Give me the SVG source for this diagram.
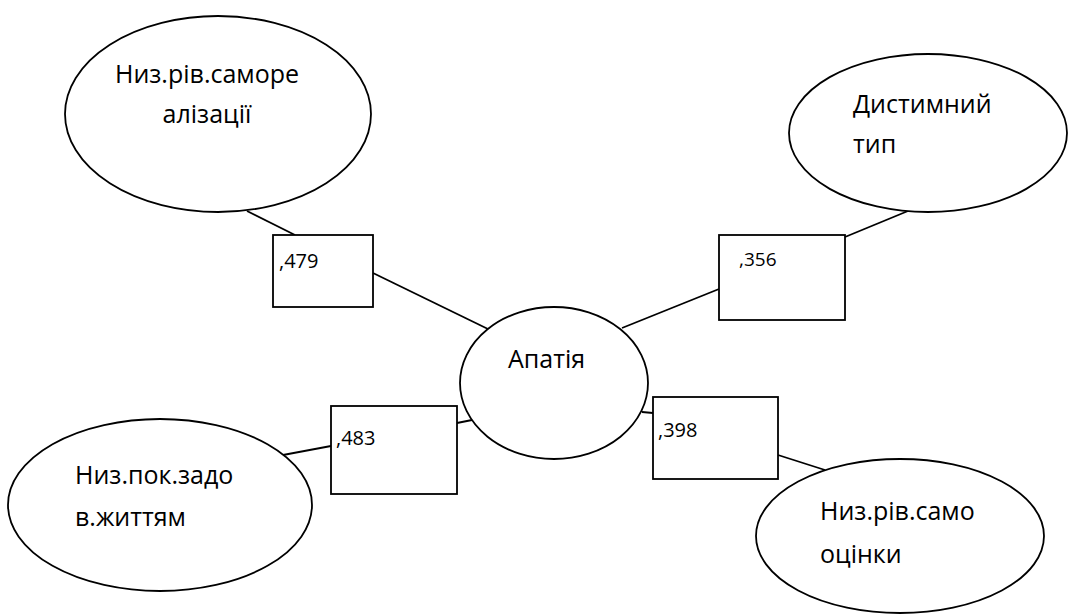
<svg xmlns="http://www.w3.org/2000/svg" width="1069" height="615" viewBox="0 0 1069 615">
<style>
.shape{fill:#fff;stroke:#000;stroke-width:1.8}
.conn line{stroke:#000;stroke-width:1.8}
.lbl{font-family:"Open Sans","Noto Sans","DejaVu Sans",sans-serif;font-size:25px;fill:#000}
.val{font-family:"Open Sans","Noto Sans","DejaVu Sans",sans-serif;font-size:20px;fill:#000}
</style>
<rect width="1069" height="615" fill="#fff"/>
<g class="conn" id="connectors">
<line x1="247" y1="211" x2="295" y2="235"/>
<line x1="373" y1="273" x2="488" y2="329"/>
<line x1="908" y1="211" x2="845" y2="237"/>
<line x1="719" y1="289" x2="622" y2="328"/>
<line x1="283" y1="455" x2="331" y2="446"/>
<line x1="457" y1="423" x2="472" y2="420"/>
<line x1="642" y1="412" x2="653" y2="413"/>
<line x1="778" y1="455" x2="825" y2="470"/>
</g>
<g id="n-samorealizatsii">
<ellipse class="shape" cx="218" cy="114" rx="153" ry="98"/>
<text class="lbl" x="207" y="83" text-anchor="middle">Низ.рів.саморе</text>
<text class="lbl" x="207" y="123" text-anchor="middle">алізації</text>
</g>
<g id="n-dystymnyi">
<ellipse class="shape" cx="928" cy="133" rx="139" ry="79"/>
<text class="lbl" x="853" y="113">Дистимний</text>
<text class="lbl" x="853" y="153">тип</text>
</g>
<g id="n-apatiia">
<ellipse class="shape" cx="554" cy="383" rx="94" ry="76"/>
<text class="lbl" x="508" y="368">Апатія</text>
</g>
<g id="n-zadov">
<ellipse class="shape" cx="160" cy="505" rx="152" ry="86"/>
<text class="lbl" x="75" y="484">Низ.пок.задо</text>
<text class="lbl" x="75" y="526">в.життям</text>
</g>
<g id="n-samootsinky">
<ellipse class="shape" cx="900" cy="536" rx="144" ry="77"/>
<text class="lbl" x="820" y="520">Низ.рів.само</text>
<text class="lbl" x="820" y="563">оцінки</text>
</g>
<g id="v479">
<rect class="shape" x="273" y="235" width="100" height="72"/>
<text class="val" x="279" y="268">,479</text>
</g>
<g id="v356">
<rect class="shape" x="719" y="235" width="126" height="85"/>
<text class="val" x="739" y="266" style="font-size:19px">,356</text>
</g>
<g id="v483">
<rect class="shape" x="331" y="406" width="126" height="88"/>
<text class="val" x="336" y="445">,483</text>
</g>
<g id="v398">
<rect class="shape" x="653" y="397" width="125" height="82"/>
<text class="val" x="658" y="437">,398</text>
</g>
</svg>
